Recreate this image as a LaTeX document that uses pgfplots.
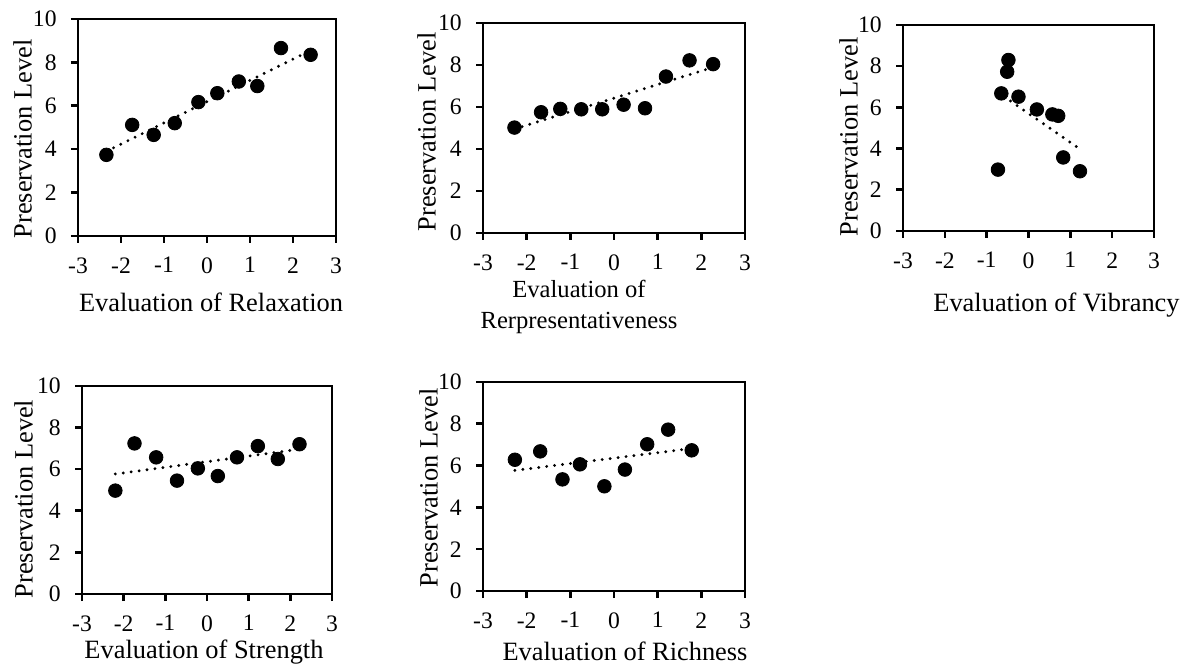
\documentclass[border=0pt]{standalone}
\usepackage{fontspec}
\setmainfont{Liberation Serif}
\usepackage{pgfplots}
\pgfplotsset{compat=1.18}

\newcommand{\labfont}{\fontsize{13.2}{15.5}\selectfont}

\pgfplotsset{
  pres/.style={
    scale only axis,
    anchor=south west,
    xmin=-3, xmax=3, ymin=0, ymax=10,
    xtick={-3,-2,...,3}, ytick={0,2,...,10},
    axis line style={line width=1.3pt},
    tick style={line width=1.3pt, black},
    major tick length=3.5pt,
    tick align=outside,
    tick pos=left,
    clip=false,
    /pgf/number format/assume math mode=true,
    ticklabel style={font=\fontsize{11.8}{13}\selectfont, inner sep=0pt},
    xticklabel style={yshift=-7pt},
    yticklabel style={xshift=-7pt},
    ylabel={Preservation Level},
  },
  pts/.style={only marks, mark=*, mark size=3.4pt, black, mark options={fill=black}},
  trend/.style={black, line width=1.6pt, line cap=round, dash pattern=on 0pt off 4pt},
}

\begin{document}
\begin{tikzpicture}

% Relaxation
\begin{axis}[pres, at={(39pt,216pt)}, width=129pt, height=108.5pt,
  xlabel={Evaluation of Relaxation},
  every axis x label/.style={at={(axis description cs:0.5,0)}, xshift=2pt, yshift=-28.5pt, anchor=north, inner sep=0pt, font=\labfont},
  every axis y label/.style={at={(axis description cs:0,0.5)}, xshift=-32.5pt, yshift=-5.75pt, rotate=90, anchor=north, inner sep=0pt, font=\labfont}]
  \addplot[trend] coordinates {(-2.34,3.90) (2.41,8.55)};
  \addplot[pts] coordinates {(-2.34,3.74) (-1.74,5.12) (-1.24,4.66) (-0.75,5.20) (-0.20,6.17)
    (0.24,6.58) (0.74,7.12) (1.17,6.91) (1.72,8.66) (2.41,8.35)};
\end{axis}

% Representativeness
\begin{axis}[pres, at={(241.5pt,217.5pt)}, width=131pt, height=105pt,
  xlabel={Evaluation of\\Rerpresentativeness},
  every axis x label/.style={at={(axis description cs:0.5,0)}, xshift=-17.5pt, yshift=-23.5pt, anchor=north, inner sep=0pt, align=center, font=\fontsize{12.3}{15.5}\selectfont},
  every axis y label/.style={at={(axis description cs:0,0.5)}, xshift=-33pt, yshift=-2pt, rotate=90, anchor=north, inner sep=0pt, font=\labfont}]
  \addplot[trend] coordinates {(-2.28,4.95) (2.27,7.89)};
  \addplot[pts] coordinates {(-2.28,5.02) (-1.67,5.75) (-1.23,5.91) (-0.75,5.89) (-0.27,5.89)
    (0.22,6.11) (0.71,5.94) (1.19,7.45) (1.73,8.22) (2.27,8.04)};
\end{axis}

% Vibrancy
\begin{axis}[pres, at={(451.5pt,218.5pt)}, width=125.5pt, height=103pt,
  xlabel={Evaluation of Vibrancy},
  every axis x label/.style={at={(axis description cs:0.5,0)}, xshift=14pt, yshift=-31pt, anchor=north, inner sep=0pt, font=\labfont},
  every axis y label/.style={at={(axis description cs:0,0.5)}, xshift=-32pt, yshift=-4.5pt, rotate=90, anchor=north, inner sep=0pt, font=\labfont}]
  \addplot[trend] coordinates {(-0.43,6.31) (1.15,4.09)};
  \addplot[pts] coordinates {(-0.48,8.30) (-0.51,7.73) (-0.65,6.68) (-0.24,6.52) (0.20,5.90)
    (0.57,5.66) (0.71,5.59) (0.83,3.57) (1.23,2.90) (-0.73,2.98)};
\end{axis}

% Strength
\begin{axis}[pres, at={(41pt,37pt)}, width=125pt, height=104pt,
  xlabel={Evaluation of Strength},
  every axis x label/.style={at={(axis description cs:0.5,0)}, xshift=-1.5pt, yshift=-23pt, anchor=north, inner sep=0pt, font=\labfont},
  every axis y label/.style={at={(axis description cs:0,0.5)}, xshift=-34pt, yshift=-4.5pt, rotate=90, anchor=north, inner sep=0pt, font=\labfont}]
  \addplot[trend] coordinates {(-2.20,5.77) (2.22,6.96)};
  \addplot[pts] coordinates {(-2.20,4.97) (-1.74,7.24) (-1.22,6.57) (-0.72,5.45) (-0.22,6.04)
    (0.26,5.67) (0.72,6.57) (1.22,7.11) (1.70,6.49) (2.22,7.20)};
\end{axis}

% Richness
\begin{axis}[pres, at={(241.5pt,38.5pt)}, width=131pt, height=104.5pt,
  xlabel={Evaluation of Richness},
  every axis x label/.style={at={(axis description cs:0.5,0)}, xshift=5.5pt, yshift=-25.5pt, anchor=north, inner sep=0pt, font=\labfont},
  every axis y label/.style={at={(axis description cs:0,0.5)}, xshift=-32pt, yshift=-0.75pt, rotate=90, anchor=north, inner sep=0pt, font=\labfont}]
  \addplot[trend] coordinates {(-2.27,5.77) (1.78,6.82)};
  \addplot[pts] coordinates {(-2.27,6.28) (-1.69,6.68) (-1.18,5.34) (-0.78,6.06) (-0.22,5.01)
    (0.25,5.81) (0.76,7.02) (1.24,7.72) (1.78,6.73)};
\end{axis}

\pgfresetboundingbox
\path[use as bounding box] (0,0) rectangle (593pt,334pt);
\end{tikzpicture}
\end{document}
